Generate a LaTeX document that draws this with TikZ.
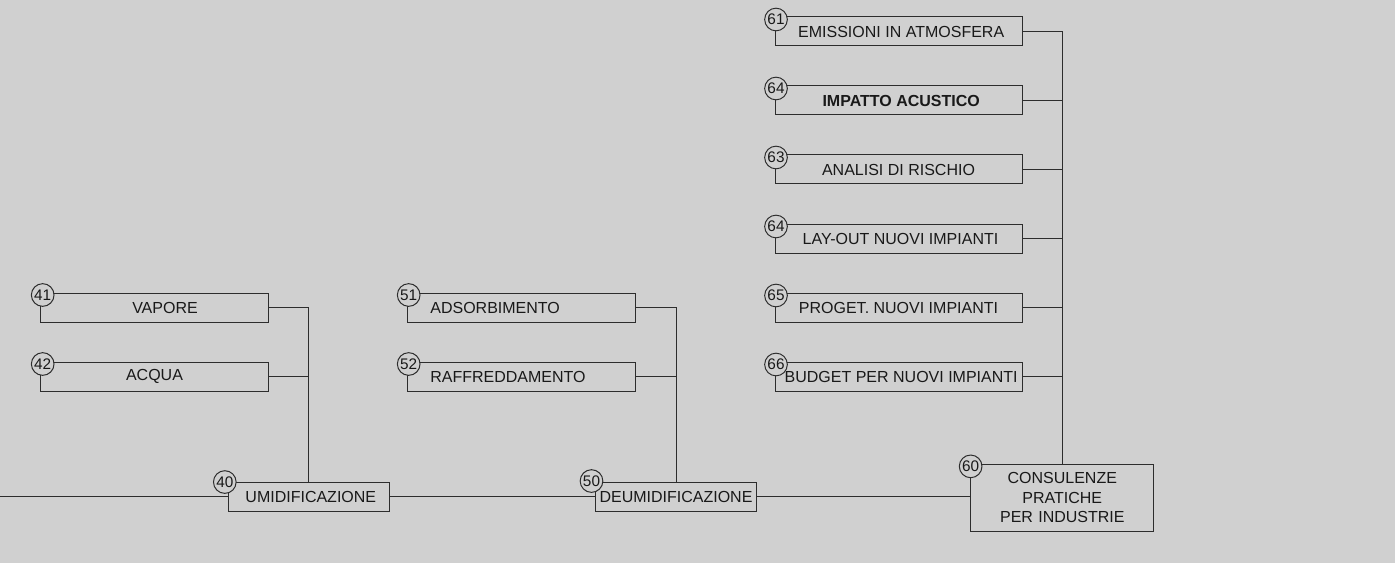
\documentclass[tikz,border=0pt]{standalone}
\usepackage{fontspec}
\setmainfont{Liberation Sans}
\definecolor{bg}{RGB}{208,208,208}
\definecolor{ln}{RGB}{45,45,45}
\definecolor{tx}{RGB}{25,25,25}
\begin{document}
\begin{tikzpicture}[x=0.75pt,y=-0.75pt,
  box/.style={draw=ln, line width=0.75pt, inner sep=0pt, text=tx, font=\fontsize{12}{14.6}\selectfont},
  rbox/.style={box, minimum width=185.25pt, minimum height=21.75pt},
  lbox/.style={box, minimum width=170.7pt, minimum height=21.75pt},
  mbox/.style={box, minimum height=21.75pt, text width=136.7pt, inner xsep=17pt, align=left},
  bbox/.style={box, minimum width=120.75pt, minimum height=21.4pt},
  num/.style={circle, draw=ln, line width=0.75pt, fill=bg, inner sep=0pt, minimum size=17pt, text=tx, font=\fontsize{11.5}{12}\selectfont},
  conn/.style={draw=ln, line width=0.75pt}
]
\fill[bg] (0,0) rectangle (1395,563);
\useasboundingbox (0,0) rectangle (1395,563);

% right column
\node[rbox] (n61) at (898.5,31.5)  {\hspace*{4pt}EMISSIONI IN ATMOSFERA};
\node[rbox] (n64a) at (898.5,100.5) {\hspace*{4pt}\bfseries IMPATTO ACUSTICO};
\node[rbox] (n63) at (898.5,169.5) {ANALISI DI RISCHIO};
\node[rbox] (n64b) at (898.5,238.5) {\hspace*{3pt}LAY-OUT NUOVI IMPIANTI};
\node[rbox] (n65) at (898.5,307.5) {PROGET. NUOVI IMPIANTI};
\node[rbox] (n66) at (898.5,376.5) {\hspace*{4pt}BUDGET PER NUOVI IMPIANTI};

% left column
\node[lbox] (n41) at (154.5,307.5) {\hspace*{15.75pt}VAPORE};
\node[lbox] (n42) at (154.5,376.5) {ACQUA};

% middle column
\node[mbox] (n51) at (521.5,307.5) {ADSORBIMENTO};
\node[mbox] (n52) at (521.5,376.5) {RAFFREDDAMENTO};

% bottom row
\node[bbox] (n40) at (308.8,496.8) {\hspace*{3pt}UMIDIFICAZIONE};
\node[bbox] (n50) at (676,496.8) {DEUMIDIFICAZIONE};
\node[box, minimum width=137.5pt, minimum height=50pt, text width=137.5pt, align=center] (n60) at (1062.3,497.7) {CONSULENZE\\PRATICHE\\PER INDUSTRIE};

\coordinate (start) at (0,496.8);

% connectors
\draw[conn] (start) -- (n40.west);
\draw[conn] (n40.east) -- (n50.west);
\draw[conn] (n50.east) -- (n50.east -| n60.west);

\draw[conn] (n40.north) |- (n41.east);
\draw[conn] (n42.east) -- (n42.east -| n40.north);

\draw[conn] (n50.north) |- (n51.east);
\draw[conn] (n52.east) -- (n52.east -| n50.north);

\draw[conn] (n60.north) |- (n61.east);
\draw[conn] (n64a.east) -- (n64a.east -| n60.north);
\draw[conn] (n63.east) -- (n63.east -| n60.north);
\draw[conn] (n64b.east) -- (n64b.east -| n60.north);
\draw[conn] (n65.east) -- (n65.east -| n60.north);
\draw[conn] (n66.east) -- (n66.east -| n60.north);

% number circles
\node[num] (c61) at ([shift={(1.5,3)}]n61.north west) {61};
\node[num] (c64a) at ([shift={(1.5,3)}]n64a.north west) {64};
\node[num] (c63) at ([shift={(1.5,3)}]n63.north west) {63};
\node[num] (c64b) at ([shift={(1.5,3)}]n64b.north west) {64};
\node[num] (c65) at ([shift={(1.5,3)}]n65.north west) {65};
\node[num] (c66) at ([shift={(1.5,3)}]n66.north west) {66};
\node[num] (c41) at ([shift={(2.5,2.5)}]n41.north west) {41};
\node[num] (c42) at ([shift={(2.5,2.5)}]n42.north west) {42};
\node[num] (c51) at ([shift={(1.5,2.5)}]n51.north west) {51};
\node[num] (c52) at ([shift={(1.5,2.5)}]n52.north west) {52};
\node[num] (c40) at ([shift={(-3,0)}]n40.north west) {40};
\node[num] (c50) at ([shift={(-3.5,-1)}]n50.north west) {50};
\node[num] (c60) at ([shift={(0.5,2.5)}]n60.north west) {60};
\end{tikzpicture}
\end{document}
